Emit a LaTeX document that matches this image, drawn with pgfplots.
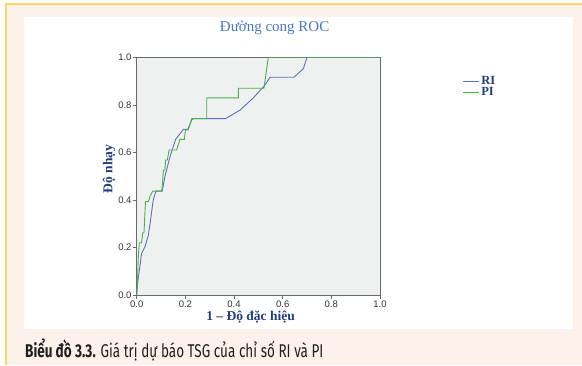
\documentclass[border=0pt]{standalone}
\usepackage{pgfplots}
\pgfplotsset{compat=1.18}
\usepackage{fontspec}
\usepackage{graphicx}
\setmainfont{Liberation Serif}
\setsansfont{Liberation Sans}
\newfontfamily\capfont{Fira Sans}
\definecolor{cream}{HTML}{FDF2EB}
\definecolor{yel}{HTML}{F9D867}
\definecolor{plotbg}{HTML}{EFF1F1}
\definecolor{axgray}{HTML}{6A6A6A}
\definecolor{titleblue}{HTML}{4A75BD}
\definecolor{labblue}{HTML}{233E7A}
\definecolor{riblue}{HTML}{5B73BE}
\definecolor{pigreen}{HTML}{4CB04C}
\definecolor{captxt}{HTML}{231F20}
\begin{document}
\begin{tikzpicture}[x=1pt,y=1pt]
\fill[white] (0,0) rectangle (582,365);
\fill[cream] (5,0) rectangle (582,361);
\fill[yel] (5,359.5) rectangle (582,361.5);
\fill[yel] (4.5,0) rectangle (6.5,361.5);
\fill[white] (24,36) rectangle (573,348);
\begin{axis}[
  at={(136.7pt,70pt)}, anchor=south west,
  scale only axis, width=243.3pt, height=237.7pt,
  xmin=0, xmax=1, ymin=0, ymax=1,
  axis background/.style={fill=plotbg},
  axis line style={draw=axgray, line width=0.8pt},
  xtick={0,0.2,0.4,0.6,0.8,1.0}, ytick={0,0.2,0.4,0.6,0.8,1.0},
  xtick pos=bottom, ytick pos=left,
  tick align=outside, major tick length=4pt,
  tick style={draw=axgray, line width=0.6pt},
  /pgf/number format/assume math mode=true,
  xticklabel={\pgfmathprintnumber[fixed,fixed zerofill,precision=1]{\tick}},
  yticklabel={\pgfmathprintnumber[fixed,fixed zerofill,precision=1]{\tick}},
  ticklabel style={font=\sffamily\fontsize{9.5}{9.5}\selectfont, text=black!80},
  xticklabel style={inner sep=1pt, yshift=-1pt},
  yticklabel style={inner sep=1pt},
  title={Đường cong ROC},
  title style={at={(axis description cs:0.567,1.085)}, anchor=base, font=\fontsize{15}{15}\selectfont, text=titleblue},
  xlabel={1 – Độ đặc hiệu},
  ylabel={Độ nhạy},
  every axis x label/.style={at={(axis description cs:0.468,-0.107)}, anchor=base, font=\bfseries\fontsize{13.5}{13.5}\selectfont, text=labblue},
  every axis y label/.style={at={(axis description cs:-0.114,0.530)}, anchor=center, rotate=90, font=\bfseries\fontsize{13.5}{13.5}\selectfont, text=labblue},
  legend image code/.code={\draw[#1] (0pt,0pt) -- (16pt,0pt);},
  legend style={at={(axis description cs:1.34,0.927)}, anchor=north west, draw=none, fill=none,
    font=\bfseries\fontsize{12.5}{12.5}\selectfont, text=labblue, row sep=-1.5pt, inner sep=0pt,
    nodes={inner sep=1.5pt}},
  legend cell align=left,
]
\addplot[riblue, line width=0.9pt] coordinates {
(0,0) (0.003,0.04) (0.007,0.077) (0.014,0.126) (0.02,0.175) (0.034,0.203)
(0.048,0.252) (0.057,0.316) (0.068,0.4) (0.079,0.437) (0.105,0.437)
(0.116,0.498) (0.13,0.554) (0.137,0.582) (0.16,0.655) (0.192,0.697)
(0.21,0.697) (0.226,0.736) (0.233,0.742) (0.365,0.742) (0.425,0.778)
(0.48,0.83) (0.527,0.883) (0.548,0.916) (0.646,0.916) (0.685,0.952)
(0.7,1.0) (1,1)
};
\addlegendentry{RI}
\addplot[pigreen, line width=0.9pt] coordinates {
(0,0) (0.003,0.05) (0.007,0.168) (0.011,0.22) (0.02,0.22) (0.025,0.262)
(0.03,0.262) (0.034,0.35) (0.036,0.393) (0.048,0.393) (0.055,0.417)
(0.066,0.437) (0.103,0.437) (0.106,0.47) (0.11,0.526) (0.116,0.526)
(0.119,0.568) (0.126,0.568) (0.133,0.61) (0.164,0.61) (0.178,0.655)
(0.196,0.655) (0.2,0.694) (0.212,0.694) (0.226,0.742) (0.288,0.742)
(0.288,0.829) (0.418,0.829) (0.418,0.87) (0.523,0.87) (0.541,1.0) (1,1)
};
\addlegendentry{PI}
\end{axis}
\node[anchor=base west, inner sep=0pt, text=captxt] at (25,8)
  {\scalebox{0.73}[1]{\capfont\fontsize{18.5}{18.5}\selectfont\textbf{Biểu đồ 3.3.} Giá trị dự báo TSG của chỉ số RI và PI}};
\end{tikzpicture}
\end{document}
